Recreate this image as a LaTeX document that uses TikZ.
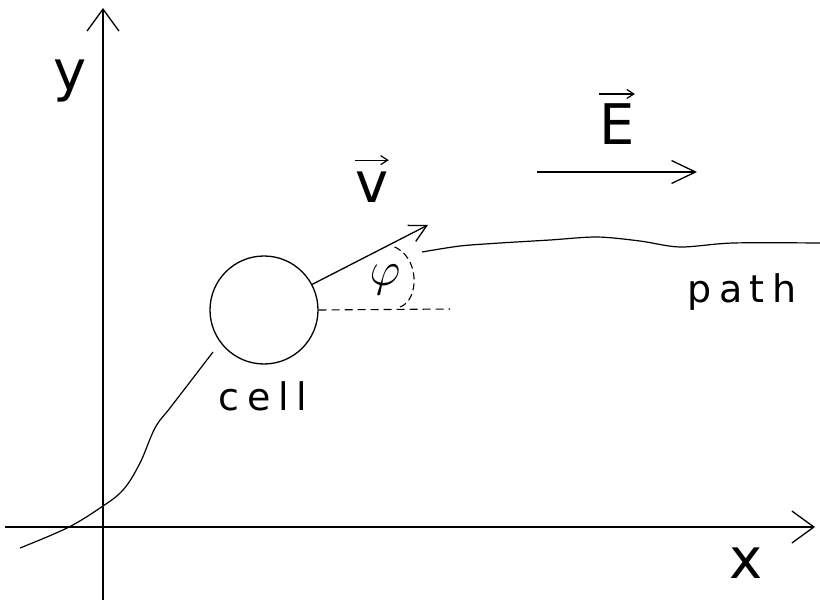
\RequirePackage{fix-cm}
\documentclass[tikz,border=0pt]{standalone}
\usepackage{fontspec}
\usetikzlibrary{arrows.meta}
\newfontfamily\plotfont{DejaVu Sans}
\newfontfamily\widefont[LetterSpace=20]{DejaVu Sans}
\tikzset{
  axis/.style={line width=1.3pt,-{Straight Barb[length=22pt,width=32pt]}},
  curve/.style={line width=1.2pt},
  lbl/.style={inner sep=0pt,anchor=base,font=\plotfont\fontsize{56}{60}\selectfont},
  word/.style={inner sep=0pt,anchor=base,font=\widefont\fontsize{38}{42}\selectfont},
  overarrow/.style={line width=1.2pt,-{Straight Barb[length=7pt,width=9pt]}}
}

\begin{document}
\begin{tikzpicture}[x=1pt,y=-1pt]
  \useasboundingbox (0,0) rectangle (820,607);
  % axes
  \coordinate (ybot) at (103,600);
  \coordinate (ytop) at (103,8);
  \coordinate (xleft) at (5,527);
  \coordinate (xright) at (815,527);
  \draw[axis] (ybot) -- (ytop);
  \draw[axis] (xleft) -- (xright);
  \node[lbl] (ylab) at (70,91) {y};
  \node[lbl] (xlab) at (746,578) {x};
  % cell and its path
  \node[circle,draw,line width=1.3pt,minimum size=108pt,inner sep=0pt] (cell) at (264,310) {};
  \node[word] (celllab) at (263,410) {cell};
  \draw[curve] plot[smooth,tension=0.6] coordinates {(20,548) (67,528) (100,508) (123,490) (140,463)
    (155,428) (170,408) (190,382) (213,352)};
  \draw[curve] plot[smooth] coordinates {(422,252) (460,246) (500,243) (550,240) (597,237)
    (640,241) (680,247) (733,243) (820,243)};
  \node[word] (pathlab) at (742,302) {path};
  % velocity and angle
  \coordinate (vtip) at (428,225);
  \coordinate (hor) at (450,309);
  \draw[line width=1.3pt,-{Straight Barb[length=17pt,width=18pt]}] (cell.28) -- (vtip);
  \draw[line width=1.1pt,dash pattern=on 8pt off 5pt] (cell.east) -- (hor);
  \draw[line width=1.1pt,dash pattern=on 7pt off 4pt] (400,307) .. controls (420,300) and (420,255) .. (392,246);
  \node[inner sep=0pt,font=\fontsize{48}{52}\selectfont] (phi) at (385,280) {$\varphi$};
  \node[lbl] (vlab) at (372,203) {v};
  \draw[overarrow] ([yshift=12pt]vlab.north west) -- ([yshift=12pt]vlab.north east);
  % field
  \coordinate (Estart) at (537,172);
  \coordinate (Eend) at (697,172);
  \draw[line width=1.3pt,-{Straight Barb[length=24pt,width=23pt]}] (Estart) -- (Eend);
  \node[lbl] (Elab) at (617,145) {E};
  \draw[overarrow] ([yshift=10pt]Elab.north west) -- ([yshift=10pt]Elab.north east);
\end{tikzpicture}
\end{document}
